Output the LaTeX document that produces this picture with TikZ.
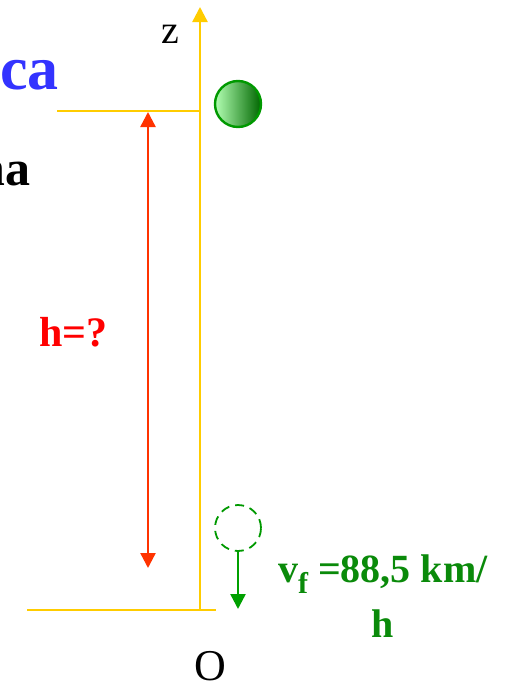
\documentclass[tikz,border=0pt]{standalone}
\usepackage{fontspec}
\setmainfont{Liberation Serif}
\usetikzlibrary{arrows.meta}

\definecolor{axisyellow}{HTML}{FFCC00}
\definecolor{hred}{HTML}{FF3300}
\definecolor{txtblue}{HTML}{3333FF}
\definecolor{txtgreen}{HTML}{0A8A0A}
\definecolor{ballgreen}{HTML}{009900}
\definecolor{arrowgreen}{HTML}{00A000}

\begin{document}
\begin{tikzpicture}[
    x=1pt, y=-1pt,
    axis/.style={axisyellow, line width=2.4pt},
    level/.style={axisyellow, line width=2.4pt},
    harrow/.style={hred, line width=2.4pt, {Triangle[length=15pt,width=15pt]}-{Triangle[length=15pt,width=15pt]}},
    fallarrow/.style={arrowgreen, line width=2.4pt, -{Triangle[length=15pt,width=15pt]}},
    ball/.style={circle, minimum size=46pt, inner sep=0pt, draw=ballgreen, line width=2.4pt,
        left color=green!30!white, right color=green!40!black},
    ghost/.style={circle, minimum size=46pt, inner sep=0pt, draw=ballgreen, line width=1.8pt,
        dash pattern=on 9pt off 6pt},
    lbl/.style={inner sep=0pt, font=\fontsize{40}{44}\selectfont}
]
\useasboundingbox (0,0) rectangle (506,688);

% --- Eixo z e níveis ---
\coordinate (O) at (200,610);
\coordinate (ztip) at (200,7);
\coordinate (topL) at (57,111);
\coordinate (topR) at (200,111);
\coordinate (gndL) at (27,610);
\coordinate (gndR) at (216,610);

\draw[axis, -{Triangle[length=15pt,width=15pt]}] (O) -- (ztip);
\draw[level] (topL) -- (topR);
\draw[level] (gndL) -- (gndR);

% --- Altura h ---
\coordinate (htop) at (148,112);
\coordinate (hbot) at (148,568);
\draw[harrow] (hbot) -- (htop);

% --- Bola ---
\node[ball] (ball) at (238,104) {};
\node[ghost] (ghost) at (238,528) {};
\coordinate (vtip) at (238,609);
\draw[fallarrow] (ghost.south) -- (vtip);

% --- Textos ---
\node[inner sep=0pt, anchor=base west, txtblue, font=\bfseries\fontsize{62}{66}\selectfont] (titulo) at (0,89) {ca};
\node[inner sep=0pt, anchor=base east, font=\bfseries\fontsize{50}{54}\selectfont] (linha) at (31,185) {na};
\node[lbl, anchor=base] (zlab) at (170,43) {z};
\node[lbl, anchor=base, text depth=0pt, font=\fontsize{44}{48}\selectfont] (olab) at (210,680) {O};
\node[inner sep=0pt, anchor=base west, red, font=\bfseries\fontsize{42}{46}\selectfont] (hlab) at (39,346) {h=?};
\node[inner sep=0pt, anchor=base west, txtgreen, align=center, font=\bfseries\fontsize{40}{55}\selectfont] (vlab) at (278,637)
    {v\raisebox{-0.28em}{\fontsize{30}{30}\selectfont f} =88,5 km/\\h};

\end{tikzpicture}
\end{document}
